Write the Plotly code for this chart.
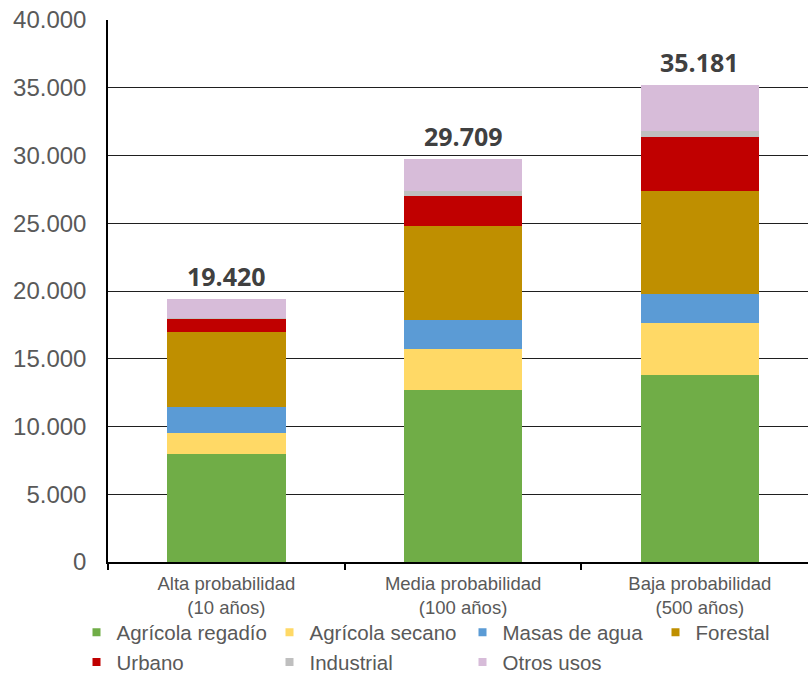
import plotly.graph_objects as go

categories = ["Alta probabilidad<br>(10 años)", "Media probabilidad<br>(100 años)", "Baja probabilidad<br>(500 años)"]
series_names = ["Agrícola regadío", "Agrícola secano", "Masas de agua", "Forestal", "Urbano", "Industrial", "Otros usos"]
agricola_regadio = [7950, 12670, 13800]
agricola_secano = [1550, 3070, 3860]
masas_agua = [1960, 2120, 2100]
forestal = [5540, 6960, 7600]
urbano = [980, 2210, 3980]
industrial = [30, 350, 470]
otros_usos = [1410, 2329, 3371]
colors = ["#70AD47", "#FFD966", "#5B9BD5", "#BF8F00", "#C00000", "#BFBFBF", "#D7BCD9"]
y_ticks = [0, 5000, 10000, 15000, 20000, 25000, 30000, 35000, 40000]

series = [agricola_regadio, agricola_secano, masas_agua, forestal, urbano, industrial, otros_usos]
totals = [sum(v) for v in zip(*series)]

fig = go.Figure()
for name, vals, col in zip(series_names, series, colors):
    fig.add_trace(go.Bar(x=categories, y=vals, name=name, marker=dict(color=col, line=dict(width=0)),
                         width=0.5, showlegend=False))

for name, col in zip(series_names, colors):
    fig.add_trace(go.Scatter(x=[None], y=[None], mode="markers", name=name,
                             marker=dict(symbol="square", size=8, color=col)))

for c, t in zip(categories, totals):
    fig.add_annotation(x=c, y=t, text=f"{t:,}".replace(",", "."), showarrow=False,
                       yanchor="bottom", yshift=4,
                       font=dict(family="Open Sans", size=25, color="#404040", weight="bold"))

fig.update_layout(
    width=808, height=680,
    margin=dict(l=108, r=0, t=20, b=118, autoexpand=False),
    barmode="stack",
    plot_bgcolor="white", paper_bgcolor="white",
    separators=",.",
    font=dict(family="Liberation Sans, Arial", color="#595959"),
    legend=dict(orientation="h", x=-0.045, xanchor="left", y=-0.093, yanchor="top",
                traceorder="normal",
                font=dict(size=20.5, color="#595959"),
                entrywidth=148, entrywidthmode="pixels",
                bgcolor="rgba(0,0,0,0)"),
    xaxis=dict(type="category", range=[-0.5, 2.457], showline=True, linecolor="black", linewidth=2,
               ticks="outside", tickson="boundaries", ticklen=6, tickcolor="black", tickwidth=1.5,
               tickfont=dict(size=18.5, color="#595959"), ticklabelstandoff=4, showgrid=False),
    yaxis=dict(range=[0, 40000], tickvals=y_ticks, tickformat=",d", showline=True, linecolor="black", linewidth=1.5,
               ticks="", showgrid=True, gridcolor="#1f1f1f", gridwidth=1,
               tickfont=dict(size=24, color="#595959"), ticklabelstandoff=15, zeroline=False),
)

fig.write_html("out.html")
